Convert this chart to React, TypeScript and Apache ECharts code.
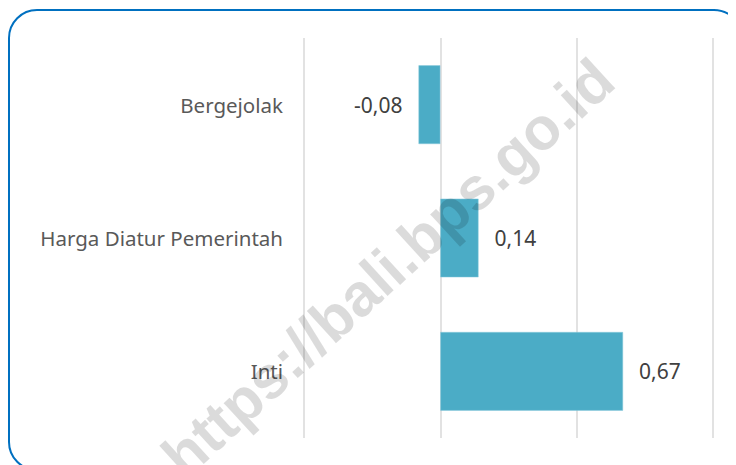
import React, { useEffect, useRef } from "react";
import * as echarts from "echarts";

const categories = ["Bergejolak", "Harga Diatur Pemerintah", "Inti"];
const values = [-0.08, 0.14, 0.67];
const axisMin = -0.5;
const axisMax = 1.0;
const axisInterval = 0.5;
const watermark = "https://bali.bps.go.id";

const fmt = (v: number) => v.toFixed(2).replace(".", ",");

export default function App() {
  const ref = useRef<HTMLDivElement>(null);
  useEffect(() => {
    if (!ref.current) return;
    const chart = echarts.init(ref.current, null, { renderer: "svg" });
    chart.setOption({
      animation: false,
      backgroundColor: "#ffffff",
      grid: { left: 296, right: 23, top: 30, bottom: 27, containLabel: false },
      xAxis: {
        type: "value",
        min: axisMin,
        max: axisMax,
        interval: axisInterval,
        axisLabel: { show: false },
        axisLine: { show: false },
        axisTick: { show: false },
        splitLine: { show: true, lineStyle: { color: "#d9d9d9", width: 1.5 } },
      },
      yAxis: {
        type: "category",
        inverse: true,
        data: categories,
        axisLine: { show: false },
        axisTick: { show: false },
        axisLabel: {
          margin: 21,
          color: "#595959",
          fontSize: 20.5,
          fontFamily: "Noto Sans",
        },
      },
      series: [
        {
          type: "bar",
          barCategoryGap: "41%",
          data: values.map((v) => ({
            value: v,
            label: { position: v < 0 ? "left" : "right" },
          })),
          itemStyle: { color: "#4BACC6", borderColor: "#8ccbdc", borderWidth: 0.5 },
          label: {
            show: true,
            distance: 16,
            color: "#404040",
            fontSize: 21,
            fontFamily: "Noto Sans",
            formatter: (p: any) => fmt(p.value),
          },
        },
      ],
      graphic: [
        {
          type: "rect",
          shape: { x: 1, y: 2, width: 733, height: 460, r: 28 },
          style: { fill: "none", stroke: "#0070C0", lineWidth: 2 },
          z: 100,
        },
        {
          type: "text",
          x: 380,
          y: 260,
          rotation: 0.74,
          z: 101,
          silent: true,
          style: {
            text: watermark,
            fill: "rgba(0,0,0,0.14)",
            font: "bold 60px 'Liberation Sans'",
            align: "center",
            verticalAlign: "middle",
          },
        },
      ],
    });
    return () => chart.dispose();
  }, []);
  return <div ref={ref} style={{ width: 728, height: 457 }} />;
}
